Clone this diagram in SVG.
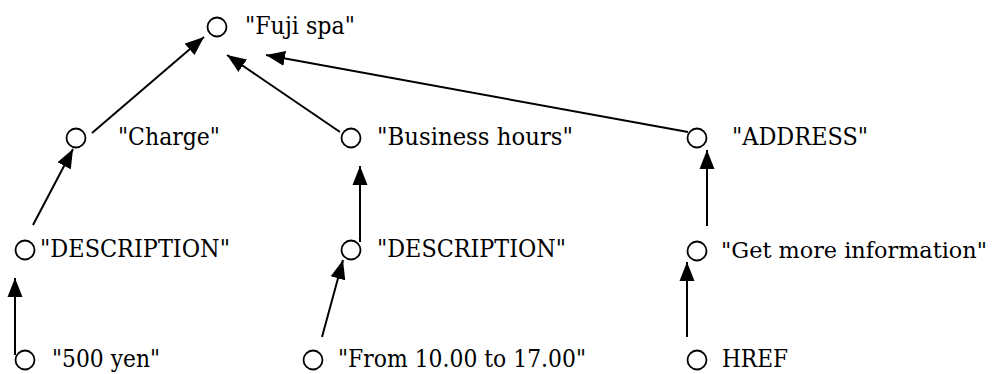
<svg xmlns="http://www.w3.org/2000/svg" width="996" height="374" viewBox="0 0 996 374">
<style>
.n circle{fill:#fff;stroke:#000;stroke-width:1.8}
.n text{font-family:"DejaVu Serif","Liberation Serif",serif;font-size:25px;fill:#000;font-weight:normal}
.n text.sm{font-size:22.5px}
.e line{stroke:#000;stroke-width:2;fill:none;marker-end:url(#ah)}
</style>
<defs>
<marker id="ah" markerUnits="userSpaceOnUse" markerWidth="20" markerHeight="16" refX="19" refY="8" orient="auto" viewBox="0 0 20 16">
<path d="M0,0.5 L19,8 L0,15.5 z" fill="#000"/>
</marker>
</defs>
<rect width="996" height="374" fill="#fff"/>
<g id="edges" class="e">
<line x1="92" y1="133" x2="204" y2="37"/>
<line x1="340" y1="132" x2="227" y2="55"/>
<line x1="688" y1="132" x2="266" y2="55"/>
<line x1="33" y1="225" x2="73" y2="149"/>
<line x1="15" y1="355" x2="15" y2="278"/>
<line x1="360" y1="242" x2="360" y2="166"/>
<line x1="322" y1="337" x2="343" y2="260"/>
<line x1="707" y1="226" x2="707" y2="150"/>
<line x1="687" y1="337" x2="687" y2="262"/>
</g>
<g id="fuji" class="n"><circle cx="217" cy="27" r="9.5"/><text x="245" y="34" textLength="110" lengthAdjust="spacingAndGlyphs">"Fuji spa"</text></g>
<g id="charge" class="n"><circle cx="76" cy="138" r="9.5"/><text x="118" y="145" textLength="102" lengthAdjust="spacingAndGlyphs">"Charge"</text></g>
<g id="business" class="n"><circle cx="351" cy="138" r="9.5"/><text x="377" y="145" textLength="196" lengthAdjust="spacingAndGlyphs">"Business hours"</text></g>
<g id="address" class="n"><circle cx="697" cy="138" r="9.5"/><text x="732" y="145" textLength="136" lengthAdjust="spacingAndGlyphs">"ADDRESS"</text></g>
<g id="desc1" class="n"><circle cx="25" cy="250" r="9.5"/><text x="40" y="257" textLength="190" lengthAdjust="spacingAndGlyphs">"DESCRIPTION"</text></g>
<g id="desc2" class="n"><circle cx="351" cy="250" r="9.5"/><text x="377" y="257" textLength="189" lengthAdjust="spacingAndGlyphs">"DESCRIPTION"</text></g>
<g id="getmore" class="n"><circle cx="697" cy="251" r="9.5"/><text class="sm" x="721" y="258" textLength="266" lengthAdjust="spacingAndGlyphs">"Get more information"</text></g>
<g id="yen" class="n"><circle cx="25" cy="360" r="9.5"/><text x="52" y="367" textLength="108" lengthAdjust="spacingAndGlyphs">"500 yen"</text></g>
<g id="from" class="n"><circle cx="313" cy="360" r="9.5"/><text x="338" y="367" textLength="248" lengthAdjust="spacingAndGlyphs">"From 10.00 to 17.00"</text></g>
<g id="href" class="n"><circle cx="697" cy="360" r="9.5"/><text x="722" y="367" textLength="66" lengthAdjust="spacingAndGlyphs">HREF</text></g>
</svg>
